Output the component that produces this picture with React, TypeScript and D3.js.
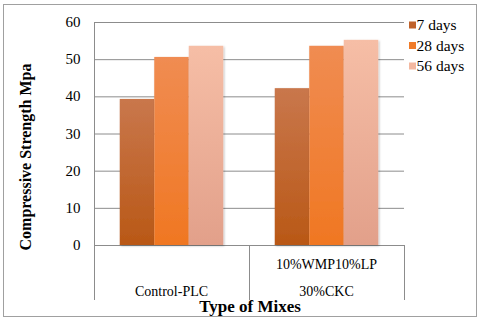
import React, { useEffect, useRef } from 'react'
import * as d3 from 'd3'

const categories = ['Control-PLC', '10%WMP10%LP\n30%CKC']
const seriesNames = ['7 days', '28 days', '56 days']
const days7 = [39.3, 42.2]
const days28 = [50.6, 53.6]
const days56 = [53.6, 55.2]
const yTicks = [0, 10, 20, 30, 40, 50, 60]

const colors = [
  { top: '#c9774c', bottom: '#b95816', legend: '#c0622a' },
  { top: '#f08c52', bottom: '#f07722', legend: '#f07b28' },
  { top: '#f6bea6', bottom: '#e2a08a', legend: '#f3b8a0' },
]

const App = () => {
  const ref = useRef<SVGSVGElement>(null)

  useEffect(() => {
    const left = 94
    const right = 404
    const top = 22
    const bottom = 245
    const font = '"Liberation Serif", "Times New Roman", serif'

    const svg = d3.select(ref.current)
    svg.selectAll('*').remove()

    const defs = svg.append('defs')
    colors.forEach((c, i) => {
      const g = defs.append('linearGradient')
        .attr('id', 'grad' + i)
        .attr('x1', 0).attr('y1', 0).attr('x2', 0).attr('y2', 1)
      g.append('stop').attr('offset', '0%').attr('stop-color', c.top)
      g.append('stop').attr('offset', '100%').attr('stop-color', c.bottom)
    })
    const f = defs.append('filter').attr('id', 'shadow')
      .attr('x', '-20%').attr('y', '-5%').attr('width', '140%').attr('height', '115%')
    f.append('feDropShadow').attr('dx', 1).attr('dy', 1).attr('stdDeviation', 1.2)
      .attr('flood-color', '#000').attr('flood-opacity', 0.25)

    svg.append('rect')
      .attr('x', 3.5).attr('y', 4.5).attr('width', 473).attr('height', 312)
      .attr('fill', '#fff').attr('stroke', '#a0a0a0')

    const x0 = d3.scaleBand().domain(categories).range([left, right])
    const x1 = d3.scaleBand().domain(seriesNames).range([0, x0.bandwidth()]).paddingOuter(0.5 * 51.5 / 34.5).paddingInner(0)
    const y = d3.scaleLinear().domain([0, 60]).range([bottom, top])

    // gridlines
    svg.append('g')
      .selectAll('line')
      .data(yTicks.filter(t => t > 0))
      .enter()
      .append('line')
      .attr('x1', left).attr('x2', right)
      .attr('y1', d => y(d) + 0.5).attr('y2', d => y(d) + 0.5)
      .attr('stroke', '#8c8c8c').attr('stroke-width', 1)

    // y axis
    const yAxis = svg.append('g')
      .attr('transform', `translate(${left + 0.5},0)`)
      .call(d3.axisLeft(y).tickValues(yTicks).tickSize(0).tickPadding(14).tickFormat(d3.format('d')))
    yAxis.attr('font-family', null).attr('font-size', null)
    yAxis.select('.domain').remove()
    yAxis.selectAll('text')
      .style('font-family', font).style('font-size', '15px').attr('fill', '#000')
      .attr('dy', '0.3em')

    // axis frame / category boxes
    const frame = svg.append('g').attr('stroke', '#8c8c8c').attr('fill', 'none')
    frame.append('line').attr('x1', left + 0.5).attr('x2', left + 0.5).attr('y1', top).attr('y2', 300)
    frame.append('line').attr('x1', left).attr('x2', right).attr('y1', bottom + 0.5).attr('y2', bottom + 0.5)
    frame.append('line').attr('x1', right + 0.5).attr('x2', right + 0.5).attr('y1', bottom).attr('y2', 300)
    frame.append('line')
      .attr('x1', x0(categories[1]) + 0.5).attr('x2', x0(categories[1]) + 0.5)
      .attr('y1', bottom).attr('y2', 300)

    // bars
    const data = categories.map((c, i) => ({ cat: c, vals: [days7[i], days28[i], days56[i]] }))
    const groups = svg.append('g')
      .selectAll('g')
      .data(data)
      .enter()
      .append('g')
      .attr('transform', d => `translate(${x0(d.cat)},0)`)
    groups.selectAll('rect')
      .data(d => d.vals.map((v, i) => ({ v, i })))
      .enter()
      .append('rect')
      .attr('x', d => x1(seriesNames[d.i]))
      .attr('y', d => y(d.v))
      .attr('width', x1.bandwidth())
      .attr('height', d => bottom - y(d.v))
      .attr('fill', d => `url(#grad${d.i})`)
      .attr('filter', 'url(#shadow)')

    // category labels
    svg.append('g')
      .selectAll('text')
      .data(categories)
      .enter()
      .append('text')
      .attr('text-anchor', 'middle')
      .style('font-family', font).style('font-size', '14px')
      .each(function (d) {
        const lines = d.split('\n')
        const t = d3.select(this)
        const cx = x0(d) + x0.bandwidth() / 2
        if (lines.length === 1) {
          t.append('tspan').attr('x', cx).attr('y', 296).text(lines[0])
        } else {
          lines.forEach((l, k) => {
            t.append('tspan').attr('x', cx).attr('y', 269 + k * 27).text(l)
          })
        }
      })

    // axis titles
    svg.append('text')
      .attr('x', 250).attr('y', 312)
      .attr('text-anchor', 'middle')
      .style('font-family', font).style('font-size', '17px').style('font-weight', 'bold')
      .text('Type of Mixes')
    svg.append('text')
      .attr('transform', 'translate(31,157) rotate(-90)')
      .attr('text-anchor', 'middle')
      .style('font-family', font).style('font-size', '16px').style('font-weight', 'bold')
      .text('Compressive Strength Mpa')

    // legend
    const lg = svg.append('g')
      .selectAll('g')
      .data(seriesNames)
      .enter()
      .append('g')
      .attr('transform', (d, i) => `translate(409,${25 + i * 20.5})`)
    lg.append('rect')
      .attr('x', 0).attr('y', -3.5).attr('width', 7).attr('height', 7)
      .attr('fill', (d, i) => colors[i].legend)
    lg.append('text')
      .attr('x', 7.5).attr('y', 5)
      .style('font-family', font).style('font-size', '15.5px')
      .text(d => d)
  }, [])

  return <svg ref={ref} width={480} height={321} style={{ position: 'absolute', left: 0, top: 0 }}></svg>
}

export default App
